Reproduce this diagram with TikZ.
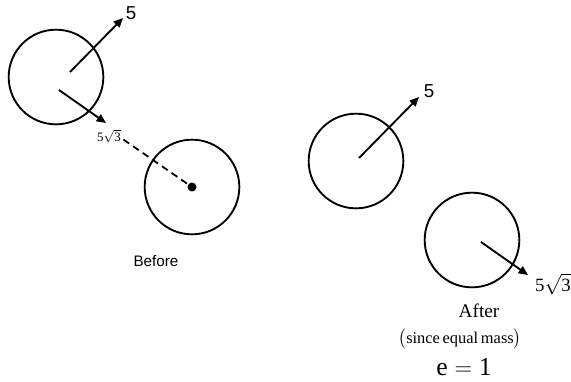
\documentclass[tikz,border=0pt]{standalone}
\usepackage{amsmath}
\usepackage{fontspec}
\setmainfont{Liberation Serif}
\setsansfont{Liberation Sans}
\usetikzlibrary{arrows.meta,positioning}

\begin{document}
\begin{tikzpicture}[
    x=0.03cm, y=-0.03cm,
    ball/.style={draw, circle, line width=1.6pt, minimum size=2.84cm, inner sep=0pt},
    vel/.style={-{Triangle[length=8pt,width=7pt]}, line width=1.6pt},
    big/.style={font=\sffamily\fontsize{16}{18}\selectfont, inner sep=1pt},
    small/.style={font=\fontsize{11}{12}\selectfont, inner sep=0pt}
]
\useasboundingbox (0,0) rectangle (571,381);

% before the collision
\node[ball] (a1) at (56,77) {};
\node[ball] (b1) at (192,187) {};
\coordinate (a1s) at (70,72);
\coordinate (a1t) at (123,18);
\coordinate (a1u) at (59,90);
\coordinate (a1v) at (106,123);
\draw[vel] (a1s) -- (a1t);
\draw[vel] (a1u) -- (a1v);
\node[big] (va) at (131,13) {5};
\node[small] (vb) at (109,136) {5$\sqrt{\text{3}}$};
\draw[line width=1.5pt, dash pattern=on 6pt off 4pt] (vb.east) ++(2pt,-3pt) -- (b1.center);
\fill (b1.center) circle (4.5);
\node[font=\sffamily\fontsize{13}{15}\selectfont] (before) at (156,261) {Before};

% after the collision
\node[ball] (a2) at (356,161) {};
\node[ball] (b2) at (472,240) {};
\coordinate (a2s) at (359,158);
\coordinate (a2t) at (419,97);
\coordinate (b2s) at (481,242);
\coordinate (b2t) at (528,275);
\draw[vel] (a2s) -- (a2t);
\draw[vel] (b2s) -- (b2t);
\node[big] (vc) at (429,91) {5};
\node[font=\fontsize{16}{18}\selectfont, inner sep=0pt] (vd) at (553,284) {5$\sqrt{\text{3}}$};
\node[font=\fontsize{16.5}{18}\selectfont] (after) at (479,311) {After};
\node[font=\fontsize{14}{16}\selectfont] (since) at (460,339) {$\bigl(\text{since\,equal\,mass}\bigr)$};
\node[font=\fontsize{22}{24}\selectfont] (rest) at (464,367) {$\text{e}=\text{1}$};
\end{tikzpicture}
\end{document}
